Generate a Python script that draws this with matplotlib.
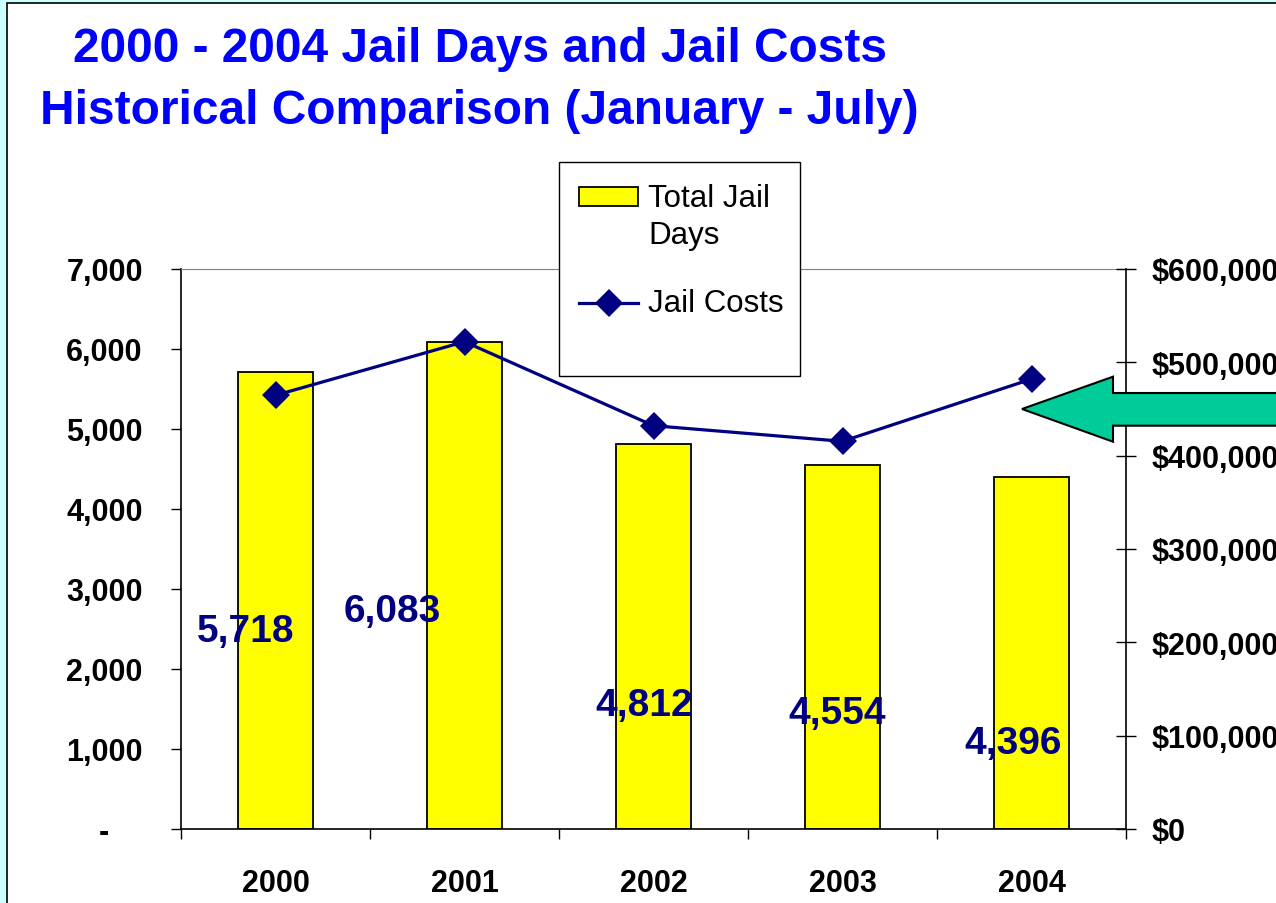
import numpy as np
import matplotlib.pyplot as plt
from matplotlib.patches import Rectangle, Polygon
from matplotlib.lines import Line2D
from matplotlib.ticker import FuncFormatter

plt.rcParams['font.family'] = ['Liberation Sans', 'DejaVu Sans']

# data
years = ['2000', '2001', '2002', '2003', '2004']
jail_days = [5718, 6083, 4812, 4554, 4396]
jail_costs = [464700, 522100, 432100, 415400, 482100]
day_labels = ['5,718', '6,083', '4,812', '4,554', '4,396']
# where the (hand-moved) data labels sit: offset from category, baseline in days
label_dx = [-0.16, -0.38, -0.05, -0.03, -0.10]
label_base = [2354, 2604, 1425, 1325, 950]

W, H = 1276, 904
fig = plt.figure(figsize=(W / 100, H / 100), dpi=100)
fig.patch.set_facecolor('#CCFFFF')


def fxy(px, py):
    return px / W, 1 - py / H


# white slide panel with black frame
fig.patches.append(Rectangle((7 / W, -0.1), 1.2, (H - 4) / H + 0.1, transform=fig.transFigure,
                             facecolor='white', edgecolor='black', linewidth=1.2, zorder=-5))

# title
tkw = dict(color='#0000FF', fontsize=34.5, fontweight='bold', ha='center', va='baseline')
fig.text(*fxy(480, 62), '2000 - 2004 Jail Days and Jail Costs', **tkw)
fig.text(*fxy(479, 124), 'Historical Comparison (January - July)', **tkw)

# axes
L, R, T, B = 181, 1126, 270, 830
ax = fig.add_axes([L / W, 1 - B / H, (R - L) / W, (B - T) / H])
ax.set_facecolor('none')
x = np.arange(len(years))
bars = ax.bar(x, jail_days, width=0.4, color='#FFFF00', edgecolor='black', linewidth=1.3, zorder=2)
ax.set_xlim(-0.5, len(years) - 0.5)
ax.set_ylim(0, 7000)
ax.set_yticks(np.arange(0, 7001, 1000))
# accounting-style zero: a dash set in from the right
ax.yaxis.set_major_formatter(FuncFormatter(lambda v, p: '-    ' if v == 0 else f'{int(v):,}'))
ax.set_xticks(x)
ax.set_xticklabels(years)
ax.set_xticks(np.arange(-0.5, len(years), 1.0), minor=True)
ax.tick_params(axis='x', which='major', length=0, pad=28, labelsize=22)
ax.tick_params(axis='x', which='minor', length=7.5, width=1, direction='out')
ax.tick_params(axis='y', length=7.5, width=1, direction='out', pad=20, labelsize=22)
for lab in ax.get_xticklabels() + ax.get_yticklabels():
    lab.set_fontweight('bold')
ax.spines['top'].set_color('#808080')
ax.spines['right'].set_visible(False)
for s in ['left', 'bottom']:
    ax.spines[s].set_linewidth(1.2)

for i in range(len(years)):
    ax.text(x[i] + label_dx[i], label_base[i], day_labels[i], color='#000080', fontsize=28,
            fontweight='bold', ha='center', va='baseline', zorder=5)

# cost line on right axis
ax2 = ax.twinx()
ax2.set_ylim(0, 600000)
ax2.set_yticks(np.arange(0, 600001, 100000))
ax2.yaxis.set_major_formatter(FuncFormatter(lambda v, p: f'${int(v):,}'))
ax2.tick_params(axis='y', length=14.5, width=1, direction='inout', pad=11.5, labelsize=22)
for lab in ax2.get_yticklabels():
    lab.set_fontweight('bold')
for s in ['top', 'left', 'bottom']:
    ax2.spines[s].set_visible(False)
ax2.spines['right'].set_linewidth(1.2)
ax2.plot(x, jail_costs, color='#000080', linewidth=2.3, marker='D', markersize=14.5,
         markeredgewidth=0, zorder=4)

# legend box, laid out like the Excel one (handle aligned to first text line)
fig.patches.append(Rectangle(fxy(559, 376.7), 241 / W, 214 / H, transform=fig.transFigure,
                             facecolor='white', edgecolor='black', linewidth=1.0, zorder=10))
fig.patches.append(Rectangle(fxy(579, 206.7), 59 / W, 18.4 / H, transform=fig.transFigure,
                             facecolor='#FFFF00', edgecolor='black', linewidth=1.3, zorder=11))
fig.lines.append(Line2D([579 / W, 638 / W], [1 - 304 / H, 1 - 304 / H], transform=fig.transFigure,
                        color='#000080', linewidth=2.3, zorder=11))
fig.lines.append(Line2D([608.5 / W], [1 - 304 / H], transform=fig.transFigure, marker='D',
                        markersize=14.5, markeredgewidth=0, color='#000080', zorder=12))
lkw = dict(fontsize=22.5, color='black', ha='left', va='baseline', zorder=12)
fig.text(*fxy(648, 206.7), 'Total Jail', **lkw)
fig.text(*fxy(648, 244), 'Days', **lkw)
fig.text(*fxy(648, 312.3), 'Jail Costs', **lkw)

# green block arrow pointing at 2004
arrow_px = [(1022, 410), (1113, 377.7), (1113, 394), (1300, 394), (1300, 426.7),
            (1113, 426.7), (1113, 442.7)]
fig.patches.append(Polygon([fxy(px, py) for px, py in arrow_px], closed=True,
                           transform=fig.transFigure, facecolor='#00CC99', edgecolor='black',
                           linewidth=1.5, zorder=20))

fig.savefig('out.png', dpi=100)
